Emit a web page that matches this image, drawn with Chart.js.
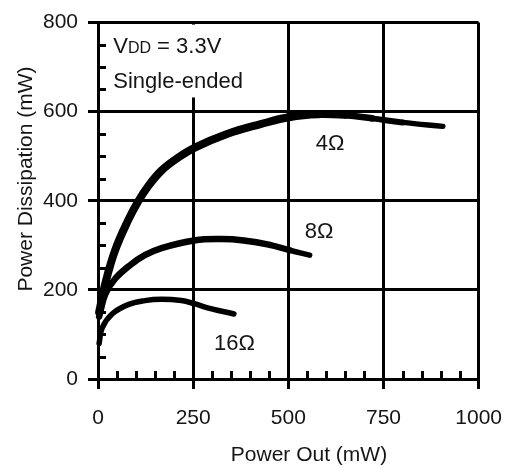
<!DOCTYPE html>
<html>
<head>
<meta charset="utf-8">
<script src="https://cdn.jsdelivr.net/npm/chart.js@4/dist/chart.umd.min.js"></script>
<style>
  html, body { margin: 0; padding: 0; background: #fff; }
  #wrap { width: 519px; height: 468px; }
</style>
</head>
<body>
<div id="wrap"><canvas id="chart" width="519" height="468"></canvas></div>
<script>
// power out (mW) vs. dissipation (mW), one pair per load
const out4 = [3, 19, 45, 79, 105, 131, 167, 209, 253, 339, 427, 504, 580, 650, 720, 800, 906];
const diss4 = [150, 214, 289, 356, 398, 432, 468, 496, 519, 550, 572, 588, 594, 592, 585, 576, 567];
const out8 = [3, 19, 45, 85, 123, 167, 253, 323, 383, 452, 504, 556];
const diss8 = [140, 190, 225, 256, 278, 294, 311, 314, 311, 301, 289, 278];
const out16 = [3, 11, 37, 79, 123, 167, 219, 253, 296, 357];
const diss16 = [80, 115, 146, 167, 176, 179, 176, 169, 158, 146];

const loadNames = ["4Ω", "8Ω", "16Ω"];
const xTicks = [0, 250, 500, 750, 1000];
const yTicks = [0, 200, 400, 600, 800];

// where the load names sit: [power out, dissipation at baseline]
const loadLabelPos = [[572, 513], [543, 316], [305, 64]];

const FONT = '"Liberation Sans", Arial, sans-serif';
const INK = "#151515";

const toPoints = (xs, ys) => xs.map((x, i) => ({ x: x, y: ys[i] }));

// thinner stroke towards the far end of a curve
const taper = (full, thin, from, to) => (ctx) => {
  const x0 = ctx.p0.parsed.x;
  if (x0 <= from) return full;
  const t = Math.min(1, (x0 - from) / (to - from));
  return full - (full - thin) * t;
};

const decor = {
  id: "decor",
  beforeDatasetsDraw(chart) {
    const { ctx, scales } = chart;
    const x = scales.x, y = scales.y;
    const x0 = x.getPixelForValue(0);
    const y0 = y.getPixelForValue(0);
    ctx.save();
    // blank panel behind the supply note
    ctx.fillStyle = "#fff";
    ctx.fillRect(x0 + 2, y.getPixelForValue(800) + 2,
      x.getPixelForValue(460) - x0 - 2, y.getPixelForValue(632) - y.getPixelForValue(800) - 2);

    // minor ticks every 50 mW, pointing into the plot
    ctx.strokeStyle = "#000";
    ctx.lineWidth = 3;
    ctx.beginPath();
    for (let v = 50; v < 1000; v += 50) {
      if (v % 250 === 0) continue;
      const px = Math.round(x.getPixelForValue(v)) + 0.5;
      ctx.moveTo(px, y0);
      ctx.lineTo(px, y0 - 8);
    }
    for (let v = 50; v < 800; v += 50) {
      if (v % 200 === 0) continue;
      const py = Math.round(y.getPixelForValue(v)) + 0.5;
      ctx.moveTo(x0, py);
      ctx.lineTo(x0 + 8, py);
    }
    ctx.stroke();
    ctx.restore();
  },
  afterDatasetsDraw(chart) {
    const { ctx, scales } = chart;
    const x = scales.x, y = scales.y;
    ctx.save();
    ctx.fillStyle = INK;
    ctx.textBaseline = "alphabetic";
    ctx.textAlign = "left";

    // supply note, "DD" set smaller after the V
    let tx = x.getPixelForValue(40);
    const ty = y.getPixelForValue(731);
    ctx.font = "22px " + FONT;
    ctx.fillText("V", tx, ty);
    tx += ctx.measureText("V").width;
    ctx.font = "16px " + FONT;
    ctx.fillText("DD", tx, ty);
    tx += ctx.measureText("DD").width;
    ctx.font = "22px " + FONT;
    ctx.fillText(" = 3.3V", tx, ty);
    ctx.fillText("Single-ended", x.getPixelForValue(40), y.getPixelForValue(653));

    loadNames.forEach((name, i) => {
      const p = loadLabelPos[i];
      ctx.fillText(name, x.getPixelForValue(p[0]), y.getPixelForValue(p[1]));
    });

    // axis titles
    ctx.font = "21px " + FONT;
    ctx.textAlign = "center";
    ctx.fillText("Power Out (mW)", 309, 461);
    ctx.translate(32, 179);
    ctx.rotate(-Math.PI / 2);
    ctx.fillText("Power Dissipation (mW)", 0, 0);
    ctx.restore();
  },
};

const lineBase = {
  borderColor: "#000",
  backgroundColor: "#000",
  pointRadius: 0,
  fill: false,
  tension: 0.4,
  borderCapStyle: "round",
  borderJoinStyle: "round",
  clip: false,
};

new Chart(document.getElementById("chart"), {
  type: "line",
  data: {
    datasets: [
      { ...lineBase, label: loadNames[0], data: toPoints(out4, diss4), borderWidth: 8,
        segment: { borderWidth: taper(8, 4.5, 480, 906) } },
      { ...lineBase, label: loadNames[1], data: toPoints(out8, diss8), borderWidth: 6.5,
        segment: { borderWidth: taper(6.5, 5, 420, 556) } },
      { ...lineBase, label: loadNames[2], data: toPoints(out16, diss16), borderWidth: 5.5 },
    ],
  },
  options: {
    responsive: false,
    animation: false,
    devicePixelRatio: 1,
    layout: { autoPadding: false, padding: { left: 0, top: 17, right: 36, bottom: 0 } },
    plugins: { legend: { display: false }, tooltip: { enabled: false } },
    scales: {
      x: {
        type: "linear",
        min: 0,
        max: 1000,
        afterBuildTicks: (s) => { s.ticks = xTicks.map((v) => ({ value: v })); },
        afterFit: (s) => { s.height = 89; },
        ticks: { color: INK, font: { family: FONT, size: 21 }, padding: 17, maxRotation: 0,
          callback: (v) => String(v) },
        grid: { color: "#000", lineWidth: 3, tickLength: 10, tickWidth: 3 },
        border: { display: true, color: "#000", width: 3 },
      },
      y: {
        type: "linear",
        min: 0,
        max: 800,
        afterBuildTicks: (s) => { s.ticks = yTicks.map((v) => ({ value: v })); },
        afterFit: (s) => { s.width = 98; },
        ticks: { color: INK, font: { family: FONT, size: 21 }, padding: 10,
          callback: (v) => String(v) },
        grid: { color: "#000", lineWidth: 3, tickLength: 10, tickWidth: 3 },
        border: { display: true, color: "#000", width: 3 },
      },
    },
  },
  plugins: [decor],
});
</script>
</body>
</html>
